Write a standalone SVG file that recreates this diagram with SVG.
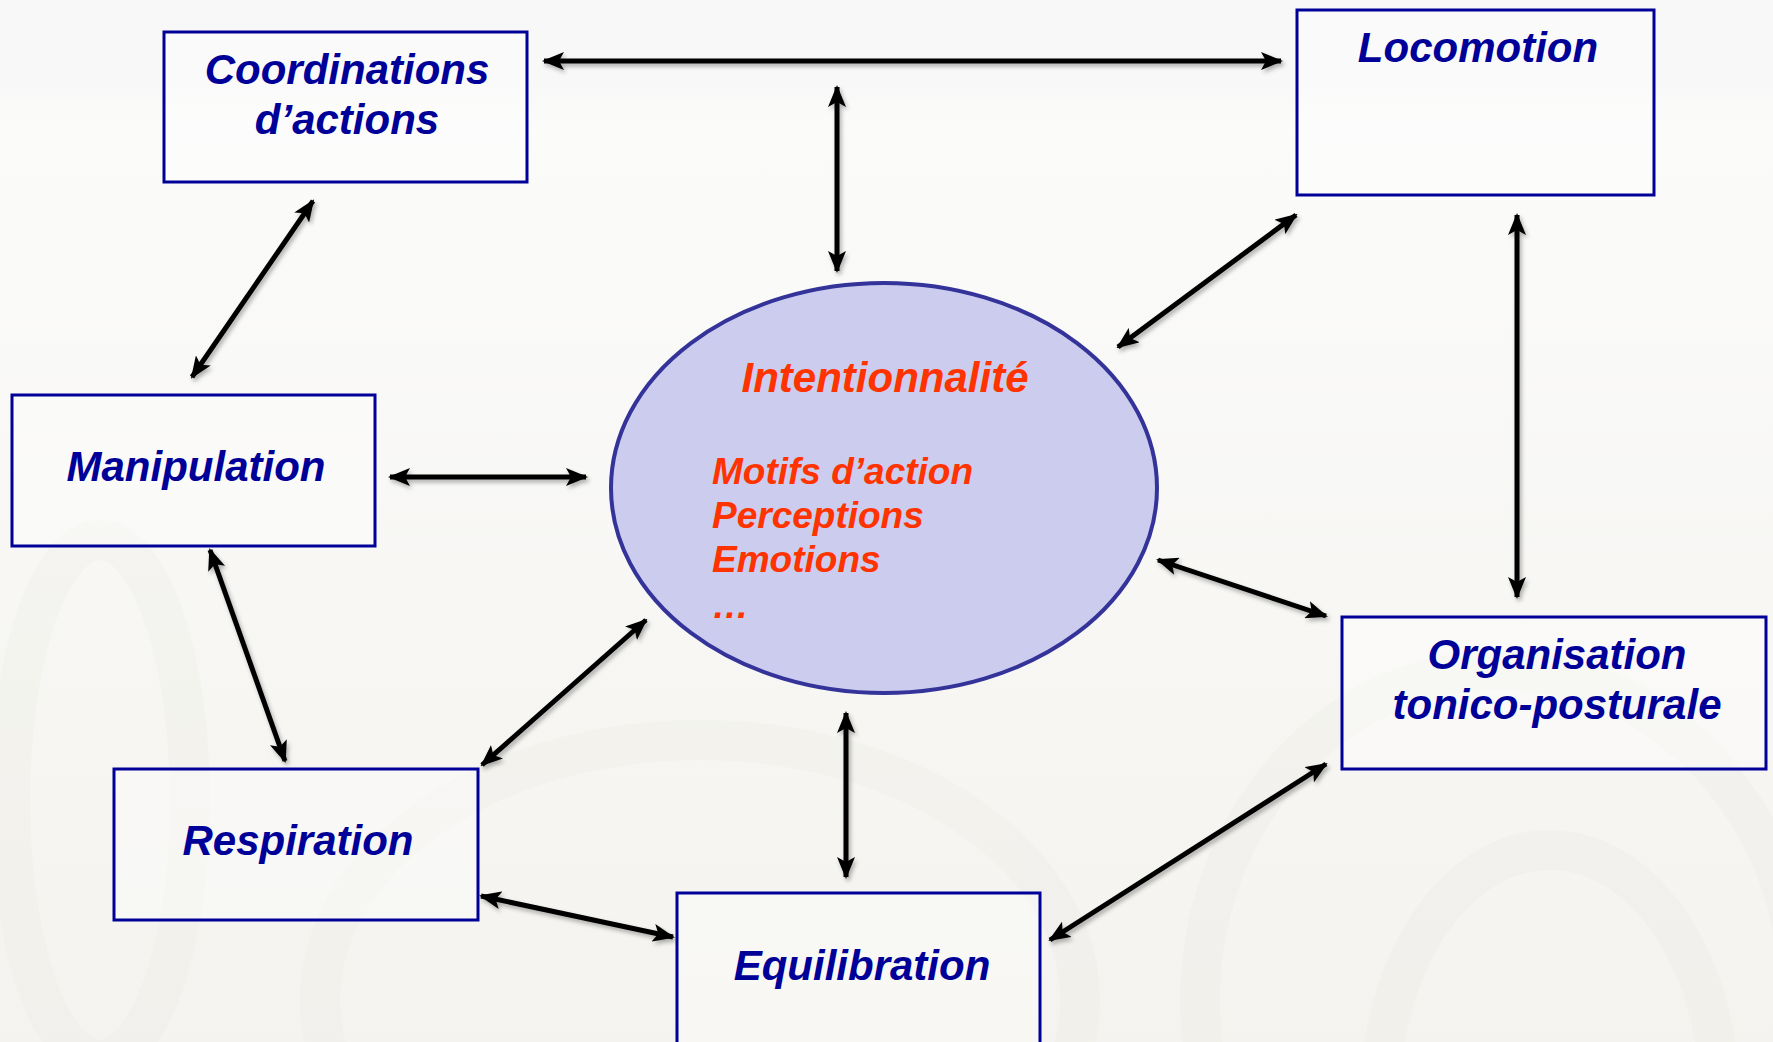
<svg xmlns="http://www.w3.org/2000/svg" width="1773" height="1042" viewBox="0 0 1773 1042">
<style>
.box{fill:#ffffff;fill-opacity:0.35;stroke:#000099;stroke-width:3}
.bt{font-family:"Liberation Sans",Arial,sans-serif;font-weight:bold;font-style:italic;font-size:42px;fill:#000099;text-anchor:middle}
.rt{font-family:"Liberation Sans",Arial,sans-serif;font-weight:bold;font-style:italic;fill:#ff3300}
.con line{stroke:#000;stroke-width:5;marker-start:url(#ah);marker-end:url(#ah)}
</style>
<defs>
<marker id="ah" viewBox="0 0 22 18" refX="20" refY="9" markerWidth="22" markerHeight="18" markerUnits="userSpaceOnUse" orient="auto-start-reverse">
<path d="M0,0 L22,9 L0,18 L5,9 Z" fill="#000"/>
</marker>
<filter id="sh" x="-10%" y="-10%" width="120%" height="120%">
<feDropShadow dx="2" dy="3" stdDeviation="2" flood-color="#000" flood-opacity="0.3"/>
</filter>
<linearGradient id="bg" x1="0" y1="0" x2="0" y2="1">
<stop offset="0" stop-color="#f8f8f8"/>
<stop offset="0.08" stop-color="#f8f8f8"/>
<stop offset="0.12" stop-color="#fbfbfa"/>
<stop offset="1" stop-color="#f4f3ef"/>
</linearGradient>
</defs>
<rect width="1773" height="1042" fill="url(#bg)"/>
<g fill="none" stroke="#eceae5" stroke-width="40" opacity="0.3">
<ellipse cx="1500" cy="1000" rx="300" ry="330"/>
<ellipse cx="1550" cy="1100" rx="170" ry="250"/>
<ellipse cx="100" cy="800" rx="90" ry="260"/>
<ellipse cx="700" cy="1000" rx="380" ry="260"/>
</g>

<g id="ellipse-intentionnalite">
<ellipse cx="884" cy="488" rx="273" ry="205" fill="#ccccee" stroke="#333399" stroke-width="4"/>
<text class="rt" x="885" y="392" font-size="42" text-anchor="middle">Intentionnalité</text>
<text class="rt" x="712" y="484" font-size="37">Motifs d’action</text>
<text class="rt" x="712" y="528" font-size="37">Perceptions</text>
<text class="rt" x="712" y="572" font-size="37">Emotions</text>
<text class="rt" x="712" y="618" font-size="37">…</text>
</g>

<g id="node-coordinations">
<rect class="box" x="164" y="32" width="363" height="150"/>
<text class="bt" x="347" y="84">Coordinations</text>
<text class="bt" x="347" y="134">d’actions</text>
</g>

<g id="node-locomotion">
<rect class="box" x="1297" y="10" width="357" height="185"/>
<text class="bt" x="1478" y="62">Locomotion</text>
</g>

<g id="node-manipulation">
<rect class="box" x="12" y="395" width="363" height="151"/>
<text class="bt" x="196" y="481">Manipulation</text>
</g>

<g id="node-respiration">
<rect class="box" x="114" y="769" width="364" height="151"/>
<text class="bt" x="298" y="855">Respiration</text>
</g>

<g id="node-equilibration">
<rect class="box" x="677" y="893" width="363" height="160"/>
<text class="bt" x="862" y="980">Equilibration</text>
</g>

<g id="node-organisation">
<rect class="box" x="1342" y="617" width="424" height="152"/>
<text class="bt" x="1557" y="669">Organisation</text>
<text class="bt" x="1557" y="719">tonico-posturale</text>
</g>

<g id="connectors" class="con" filter="url(#sh)">
<line x1="544" y1="61" x2="1281" y2="61"/>
<line x1="837" y1="87" x2="837" y2="271"/>
<line x1="313" y1="201" x2="192" y2="377"/>
<line x1="390" y1="477" x2="586" y2="477"/>
<line x1="210" y1="550" x2="285" y2="761"/>
<line x1="482" y1="765" x2="646" y2="620"/>
<line x1="481" y1="896" x2="673" y2="937"/>
<line x1="846" y1="713" x2="846" y2="877"/>
<line x1="1050" y1="940" x2="1326" y2="764"/>
<line x1="1158" y1="560" x2="1326" y2="616"/>
<line x1="1296" y1="215" x2="1118" y2="347"/>
<line x1="1517" y1="215" x2="1517" y2="597"/>
</g>
</svg>
